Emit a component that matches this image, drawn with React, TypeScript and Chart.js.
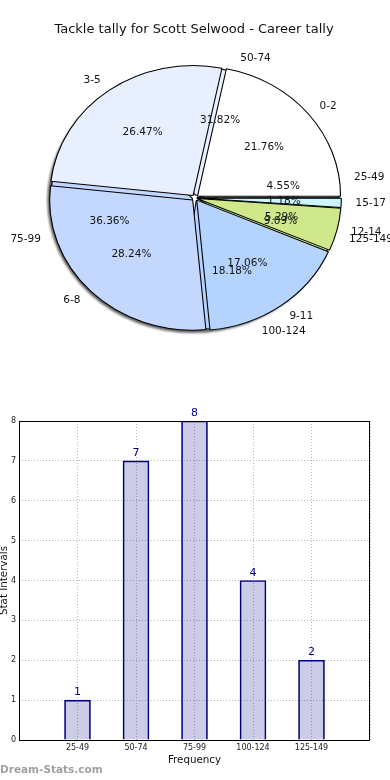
import React, { useEffect, useRef } from "react";
import { Chart, registerables } from "chart.js";

Chart.register(...registerables);

// ---- data ----
const chartTitle = "Tackle tally for Scott Selwood - Career tally";
const tackleBins = ["0-2", "3-5", "6-8", "9-11", "12-14", "15-17"];
const tackleCounts = [37, 45, 48, 29, 9, 2];
const intervalBins = ["25-49", "50-74", "75-99", "100-124", "125-149"];
const intervalCounts = [1, 7, 8, 4, 2];
const yTickMax = 8;
const xAxisTitle = "Frequency";
const yAxisTitle = "Stat Intervals";
const watermark = "Dream-Stats.com";

// ---- style ----
const FONT = "'DejaVu Sans', sans-serif";
const pieColors = ["#ffffff", "#e8f0ff", "#c4d8ff", "#b4d4ff", "#d0e88c", "#ccf5ff"];
const SX = 1.1; // horizontal stretch of the pie
const R = 130;
const OFFSET_PX = 3; // explode distance in px

function rev<T>(a: T[]): T[] {
  return a.slice().reverse();
}

// Chart.js arc offset: translation = offset/4, plus radius growth offset/4*(1-sin(circ)).
// Choose per-slice offset so every slice sticks out by the same OFFSET_PX radially.
function arcOffsets(counts: number[]): number[] {
  const total = counts.reduce((s, v) => s + v, 0);
  return counts.map((v) => {
    const circ = (v / total) * Math.PI * 2;
    const px = OFFSET_PX / (2 - Math.sin(Math.min(Math.PI, circ)));
    return px * 4;
  });
}

const ellipsePlugin = (shadow: boolean) => ({
  id: "ellipse",
  beforeDatasetsDraw(chart: any) {
    const a = chart.getDatasetMeta(0).data[0];
    const ctx = chart.ctx;
    ctx.save();
    ctx.translate(a.x, a.y);
    ctx.scale(SX, 1);
    ctx.translate(-a.x, -a.y);
    if (shadow) {
      ctx.save();
      ctx.beginPath();
      const sx = a.x - 2 / SX;
      const sy = a.y + 2.5;
      ctx.arc(sx, sy, R + OFFSET_PX - 0.5, 0, Math.PI * 2);
      ctx.arc(sx, sy, R * 0.4, 0, Math.PI * 2, true);
      ctx.fillStyle = "rgba(60,60,60,0.8)";
      ctx.filter = "blur(0.8px)";
      ctx.fill();
      ctx.restore();
    }
  },
  afterDatasetsDraw(chart: any) {
    chart.ctx.restore();
  },
});

function drawPieLabels(ctx: CanvasRenderingContext2D, cx: number, cy: number, bins: string[], counts: number[]) {
  const total = counts.reduce((s, v) => s + v, 0);
  let start = 0;
  for (let i = 0; i < counts.length; i++) {
    const frac = counts[i] / total;
    const a2 = start + frac * Math.PI * 2;
    const mid = (start + a2) / 2;
    start = a2;
    const c = Math.cos(mid);
    const s = Math.sin(mid);
    const lx = cx + SX * (OFFSET_PX * c + 1.1 * R * c);
    const ly = cy - (OFFSET_PX * s + 1.1 * R * s);
    ctx.textAlign = c > 0 ? "left" : "right";
    ctx.textBaseline = "middle";
    ctx.fillText(bins[i], lx, ly);
    const px = cx + SX * (OFFSET_PX * c + 0.6 * R * c);
    const py = cy - (OFFSET_PX * s + 0.6 * R * s);
    ctx.textAlign = "center";
    ctx.fillText((frac * 100).toFixed(2) + "%", px, py);
  }
}

const pieLabelsPlugin = {
  id: "pieLabels",
  afterDraw(chart: any) {
    const ctx = chart.ctx as CanvasRenderingContext2D;
    const a = chart.getDatasetMeta(0).data[0];
    ctx.save();
    ctx.fillStyle = "#111";
    ctx.font = `13px ${FONT}`;
    ctx.textAlign = "center";
    ctx.textBaseline = "middle";
    ctx.fillText(chartTitle, 194, 30);
    ctx.font = `10.5px ${FONT}`;
    drawPieLabels(ctx, a.x, a.y, tackleBins, tackleCounts);
    drawPieLabels(ctx, a.x, a.y, intervalBins, intervalCounts);
    ctx.restore();
  },
};

const barExtrasPlugin = {
  id: "barExtras",
  afterDraw(chart: any) {
    const ctx = chart.ctx as CanvasRenderingContext2D;
    const { left, right, top, bottom } = chart.chartArea;
    ctx.save();
    ctx.strokeStyle = "#000";
    ctx.lineWidth = 1;
    ctx.strokeRect(Math.round(left) + 0.5, Math.round(top) + 0.5, Math.round(right - left) - 1, Math.round(bottom - top));
    // value labels
    ctx.fillStyle = "#000080";
    ctx.font = `11px ${FONT}`;
    ctx.textAlign = "center";
    ctx.textBaseline = "alphabetic";
    chart.getDatasetMeta(0).data.forEach((bar: any, i: number) => {
      ctx.fillText(String(intervalCounts[i]), bar.x, bar.y - 5);
    });
    // axis titles
    ctx.fillStyle = "#111";
    ctx.font = `10.3px ${FONT}`;
    ctx.textBaseline = "middle";
    ctx.fillText(xAxisTitle, (left + right) / 2, 370);
    ctx.save();
    ctx.translate(4, (top + bottom) / 2);
    ctx.rotate(-Math.PI / 2);
    ctx.fillText(yAxisTitle, 0, 0);
    ctx.restore();
    // watermark
    ctx.fillStyle = "#a0a0a0";
    ctx.font = `bold 10.5px ${FONT}`;
    ctx.textAlign = "left";
    ctx.fillText(watermark, 0, 380);
    ctx.restore();
  },
};

export default function App() {
  const pieBackRef = useRef<HTMLCanvasElement>(null);
  const pieFrontRef = useRef<HTMLCanvasElement>(null);
  const barRef = useRef<HTMLCanvasElement>(null);

  useEffect(() => {
    document.body.style.margin = "0";
    const common = {
      responsive: false,
      animation: false as const,
      events: [] as any[],
      rotation: 90,
      layout: { padding: { top: 6, left: 0, right: 0, bottom: 0 } },
      plugins: { legend: { display: false }, tooltip: { enabled: false } },
    };

    const back = new Chart(pieBackRef.current!, {
      type: "pie",
      data: {
        labels: rev(intervalBins),
        datasets: [
          {
            data: rev(intervalCounts),
            backgroundColor: rev(pieColors.slice(0, intervalBins.length)),
            borderColor: "#000",
            borderWidth: 1,
            offset: rev(arcOffsets(intervalCounts)),
            radius: R - 2,
            clip: false,
          } as any,
        ],
      },
      options: common as any,
      plugins: [ellipsePlugin(true)],
    });

    const front = new Chart(pieFrontRef.current!, {
      type: "pie",
      data: {
        labels: rev(tackleBins),
        datasets: [
          {
            data: rev(tackleCounts),
            backgroundColor: rev(pieColors),
            borderColor: "#000",
            borderWidth: 1,
            offset: rev(arcOffsets(tackleCounts)),
            radius: R,
            clip: false,
          } as any,
        ],
      },
      options: common as any,
      plugins: [ellipsePlugin(false), pieLabelsPlugin],
    });

    const tickFont = { family: FONT, size: 8 };
    const bar = new Chart(barRef.current!, {
      type: "bar",
      data: {
        datasets: [
          {
            data: intervalBins.map((_, i) => ({ x: i + 1, y: intervalCounts[i] })),
            backgroundColor: "rgba(0,0,128,0.2)",
            borderColor: "#000080",
            borderWidth: 1,
            barThickness: 26,
          } as any,
        ],
      },
      options: {
        responsive: false,
        animation: false,
        events: [],
        layout: { padding: { left: 0, right: 20, top: 31, bottom: 0 } },
        plugins: { legend: { display: false }, tooltip: { enabled: false } },
        scales: {
          x: {
            type: "linear",
            min: 0,
            max: intervalBins.length + 1,
            offset: false,
            afterFit: (s: any) => {
              s.height = 40;
            },
            grid: { color: "#b8b8b8", lineWidth: 1, drawTicks: false, offset: false },
            border: { display: false, dash: [1, 2] },
            ticks: {
              stepSize: 1,
              autoSkip: false,
              maxRotation: 0,
              padding: 3,
              color: "#222",
              font: tickFont,
              callback: (v: any) => intervalBins[Number(v) - 1] ?? "",
            },
          },
          y: {
            min: 0,
            max: yTickMax,
            afterFit: (s: any) => {
              s.width = 19;
            },
            grid: { color: "#b8b8b8", lineWidth: 1, drawTicks: false },
            border: { display: false, dash: [1, 2] },
            ticks: { stepSize: 1, padding: 3, color: "#222", font: tickFont },
          },
        },
      } as any,
      plugins: [barExtrasPlugin],
    });

    return () => {
      back.destroy();
      front.destroy();
      bar.destroy();
    };
  }, []);

  return (
    <div style={{ position: "relative", width: 390, height: 780, background: "#fff" }}>
      <canvas ref={pieBackRef} width={390} height={390} style={{ position: "absolute", left: 0, top: 0 }} />
      <canvas ref={pieFrontRef} width={390} height={390} style={{ position: "absolute", left: 0, top: 0 }} />
      <canvas ref={barRef} width={390} height={390} style={{ position: "absolute", left: 0, top: 390 }} />
    </div>
  );
}
